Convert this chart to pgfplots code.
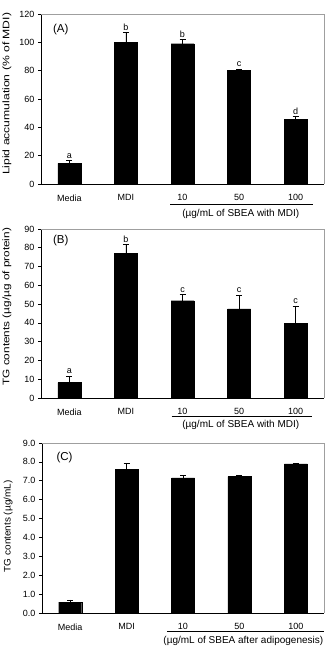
\documentclass[border=0pt]{standalone}
\usepackage{fontspec}
\setmainfont{Liberation Sans}
\usepackage{pgfplots}
\pgfplotsset{compat=1.18}

\tikzset{frame/.style={gray!75, line width=0.8pt}}

% common look of the three bar panels
\pgfplotsset{
  panel/.style={
    scale only axis,
    width=283pt, height=170pt,
    anchor=south west,
    clip=false,
    xmin=-0.5, xmax=4.5, ymin=0,
    axis x line*=bottom, axis y line*=left,
    axis line style={-, line width=0.8pt, black},
    tick style={black, line width=0.7pt},
    tick align=outside,
    major tick length=3pt,
    xtick={0,1,2,3,4},
    xticklabels={Media, MDI, 10, 50, 100},
    x tick style={draw=none},
    extra x ticks={0.5,1.5,2.5,3.5},
    extra x tick labels={},
    extra x tick style={tick style={black, line width=0.7pt}},
    tick label style={font=\fontsize{9}{10}\selectfont},
    xticklabel style={yshift=-4pt},
    /pgf/number format/assume math mode=true,
    every axis y label/.style={at={(axis description cs:-0.12,0.5)}, anchor=center, rotate=90,
                               font=\fontsize{9.5}{11}\selectfont},
  },
  bars/.style={
    ybar, bar width=23pt, fill=black, draw=black,
    error bars/.cd, y dir=plus, y explicit,
    error bar style={black, line width=0.7pt},
    error mark options={rotate=90, mark size=3pt, line width=0.7pt},
  },
  letters/.style={
    draw=none, mark=none,
    nodes near coords, point meta=explicit symbolic,
    nodes near coords style={anchor=south, font=\fontsize{9}{10}\selectfont, inner sep=2pt},
  },
}

\begin{document}
\begin{tikzpicture}
\useasboundingbox (0,0) rectangle (327pt,647pt);

% ---------------- (A) lipid accumulation ----------------
\begin{axis}[panel, at={(41pt,463pt)},
  ymax=120, ytick={0,20,...,120},
  ylabel={\scalebox{1.28}[1]{Lipid accumulation (\% of MDI)}},
  ylabel style={at={(axis description cs:-0.12,0.53)}}]
\addplot[bars] coordinates {
  (0,14.6) +- (0,2.1)
  (1,100)  +- (0,7.0)
  (2,99.0) +- (0,3.1)
  (3,80.0) +- (0,1.0)
  (4,45.7) +- (0,2.0)
};
\addplot[letters] coordinates {
  (0,16.7)[a] (1,107.0)[b] (2,102.1)[b] (3,81.0)[c] (4,47.7)[d]
};
\draw[frame] (rel axis cs:0,1) -- (rel axis cs:1,1) -- (rel axis cs:1,0);
\node[anchor=west, font=\fontsize{11.5}{13}\selectfont] at (rel axis cs:0.03,0.906) {(A)};
\draw[line width=0.8pt] ([yshift=-20pt]axis cs:1.78,0) -- ([yshift=-20pt]axis cs:4.31,0);
\node[font=\fontsize{10}{12}\selectfont] at ([yshift=-30pt]axis cs:3.03,0) {(µg/mL of SBEA with MDI)};
\end{axis}

% ---------------- (B) TG contents per protein ----------------
\begin{axis}[panel, at={(41pt,249pt)}, height=169pt,
  ymax=90, ytick={0,10,...,90},
  ylabel={\scalebox{1.24}[1]{TG contents (µg/µg of protein)}},
  ylabel style={at={(axis description cs:-0.12,0.54)}}]
\addplot[bars] coordinates {
  (0,8.2)  +- (0,3.4)
  (1,77.0) +- (0,4.8)
  (2,51.8) +- (0,3.4)
  (3,47.5) +- (0,7.2)
  (4,39.8) +- (0,9.2)
};
\addplot[letters] coordinates {
  (0,11.6)[a] (1,81.8)[b] (2,55.2)[c] (3,54.7)[c] (4,49.0)[c]
};
\draw[frame] (rel axis cs:0,1) -- (rel axis cs:1,1) -- (rel axis cs:1,0);
\node[anchor=west, font=\fontsize{11.5}{13}\selectfont] at (rel axis cs:0.03,0.929) {(B)};
\draw[line width=0.8pt] ([yshift=-18pt]axis cs:1.81,0) -- ([yshift=-18pt]axis cs:4.29,0);
\node[font=\fontsize{10}{12}\selectfont] at ([yshift=-27pt]axis cs:3.03,0) {(µg/mL of SBEA with MDI)};
\end{axis}

% ---------------- (C) TG contents after adipogenesis ----------------
\begin{axis}[panel, at={(42pt,34pt)}, width=282pt,
  ymax=9, ytick={0,1,...,9},
  yticklabel style={/pgf/number format/.cd, fixed, fixed zerofill, precision=1},
  extra x tick style={tick align=inside},
  ylabel={\scalebox{1.05}[1]{TG contents (µg/mL)}},
  ylabel style={at={(axis description cs:-0.12,0.51)}}]
\addplot[bars] coordinates {
  (0,0.57) +- (0,0.12)
  (1,7.62) +- (0,0.30)
  (2,7.16) +- (0,0.14)
  (3,7.22) +- (0,0.07)
  (4,7.89) +- (0,0.03)
};
\draw[frame] (rel axis cs:0,1) -- (rel axis cs:1,1) -- (rel axis cs:1,0);
\node[anchor=west, font=\fontsize{11.5}{13}\selectfont] at (rel axis cs:0.039,0.912) {(C)};
\draw[line width=0.8pt] ([yshift=-18pt]axis cs:1.72,0) -- ([yshift=-18pt]axis cs:4.5,0);
\node[font=\fontsize{10}{12}\selectfont] at ([yshift=-28pt]axis cs:3.07,0) {(µg/mL of SBEA after adipogenesis)};
\end{axis}
\end{tikzpicture}
\end{document}
